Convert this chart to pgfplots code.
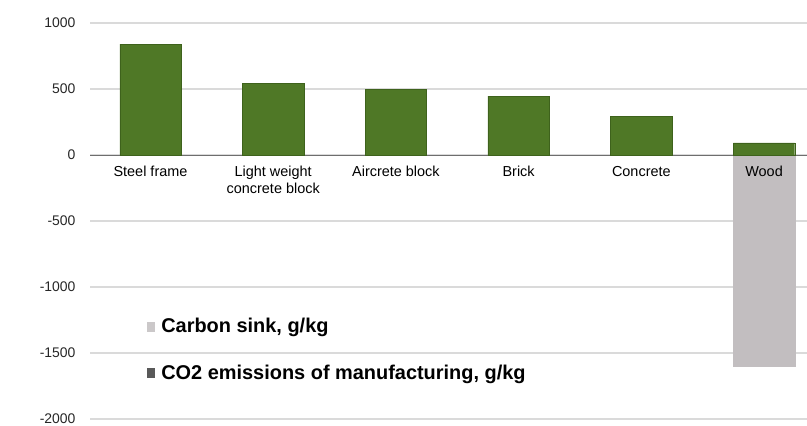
\documentclass[border=0pt]{standalone}
\usepackage{pgfplots}
\pgfplotsset{compat=1.18}
\usepackage{fontspec}
\setmainfont{Liberation Sans}
\definecolor{barGreen}{RGB}{79,120,38}
\definecolor{barGreenEdge}{RGB}{62,98,28}
\definecolor{sinkGray}{RGB}{194,190,192}
\definecolor{gridGray}{RGB}{218,218,218}
\definecolor{zeroGray}{RGB}{110,110,110}
\begin{document}
\begin{tikzpicture}
\useasboundingbox (0,0) rectangle (807bp,426bp);
\begin{axis}[
  at={(90bp,7bp)}, anchor=south west,
  scale only axis, width=717bp, height=396bp,
  xmin=-0.493, xmax=5.35, ymin=-2000, ymax=1000,
  ytick={-2000,-1500,-1000,-500,0,500,1000},
  xtick={0,1,2,3,4,5},
  xticklabels={Steel frame,{Light weight\\concrete block},Aircrete block,Brick,Concrete,{}},
  xticklabel style={align=center, font=\fontsize{14.5}{17}\selectfont, text=black, yshift=-8bp},
  yticklabel style={font=\fontsize{14}{16}\selectfont, text=black!85, xshift=-11bp},
  /pgf/number format/assume math mode=true,
  /pgf/number format/1000 sep={},
  axis x line*=middle, axis y line*=left,
  hide obscured x ticks=false, hide obscured y ticks=false,
  y axis line style={draw=none},
  x axis line style={zeroGray, line width=1pt},
  major tick length=0pt,
  ymajorgrids, grid style={gridGray, line width=1.5pt},
  ybar, bar shift=0pt, bar width=0.5,
  legend cell align=left,
  legend style={draw=none, fill=none, at={(0.075,0.265)}, anchor=north west,
    font=\fontsize{20}{24}\selectfont\bfseries, row sep=27bp, column sep=5bp},
]
\addplot[fill=sinkGray, draw=sinkGray,
  legend image code/.code={\fill[sinkGray!85!white] (0bp,-4.5bp) rectangle (7bp,4.5bp);}]
  coordinates {(5,-1600)};
\addlegendentry{Carbon sink, g/kg}
\addplot[fill=barGreen, draw=barGreenEdge,
  legend image code/.code={\fill[black!65] (0bp,-4.5bp) rectangle (7bp,4.5bp);}]
  coordinates {(0,840) (1,543) (2,497) (3,446) (4,294) (5,91)};
\addlegendentry{CO2 emissions of manufacturing, g/kg}
\node[anchor=north, font=\fontsize{14.5}{17}\selectfont, text=black, yshift=-8bp, inner sep=0.333em]
  at (axis cs:5,0) {Wood};
\end{axis}
\end{tikzpicture}
\end{document}
